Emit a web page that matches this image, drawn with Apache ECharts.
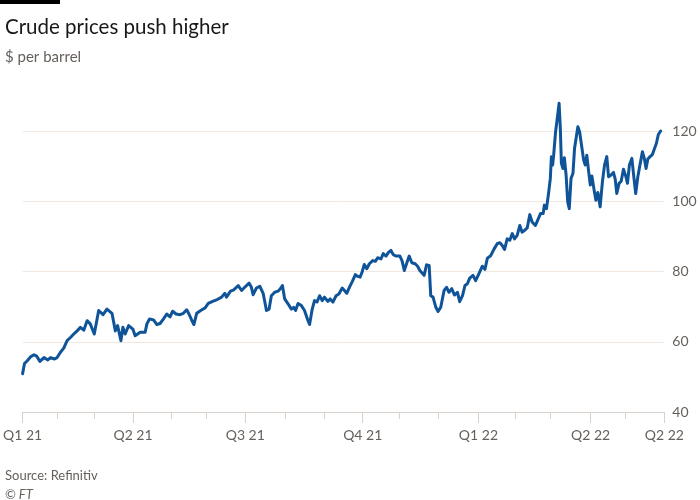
<!DOCTYPE html>
<html>
  <head>
    <meta charset="utf-8" />
    <title>Crude prices push higher</title>
    <script src="https://cdn.jsdelivr.net/npm/echarts@6/dist/echarts.min.js"></script>
    <style>
      html, body { margin: 0; padding: 0; background: #fff; }
    </style>
  </head>
  <body>
    <div id="chart" style="width: 700px; height: 500px"></div>
    <script>
      // x = trading days since 1 Jan 2021, y = Brent crude, $ per barrel
      var brent = [
        [0, 50.9], [1.1, 53.8], [2.7, 54.6], [4.5, 55.7], [6.5, 56.3], [8.0, 55.9], [9.9, 54.4], [12.2, 55.5],
        [14.4, 54.8], [15.9, 55.5], [18.2, 55.1], [19.7, 55.5], [21.6, 57], [23.5, 58.2], [25.4, 60.3], [27.3, 61.2],
        [29.2, 62.2], [31.1, 63.1], [33.0, 64.1], [34.9, 63.3], [36.8, 66], [38.6, 65.1], [40.9, 62.2], [43.4, 68.9],
        [45.9, 67.7], [48.1, 69.3], [51.0, 68.1], [52.9, 63.1], [54.2, 64.6], [56.1, 60.3], [57.2, 64.1], [58.5, 62.2],
        [60.5, 64.6], [62.9, 63.6], [64.2, 61.7], [67.1, 62.7], [69.9, 62.7], [70.9, 65.1], [72.4, 66.5], [74.7, 66.2],
        [76.6, 64.9], [78.4, 65.2], [80.4, 66.5], [82.2, 67.9], [84.1, 67.1], [85.6, 68.7], [87.5, 67.9], [89.8, 67.7],
        [91.7, 68.1], [93.6, 69.1], [94.9, 67.9], [96.4, 66.2], [97.7, 64.9], [99.3, 68.1], [101.6, 68.9], [104.0, 69.6],
        [105.9, 70.9], [108.4, 71.5], [110.6, 71.9], [113.5, 72.7], [115.4, 73.8], [116.3, 72.7], [118.6, 74.4], [120.5, 74.8],
        [123.0, 76], [124.9, 74.6], [126.7, 75.5], [129.2, 76.7], [130.5, 75.5], [131.5, 73.4], [133.4, 75.3], [135.3, 75.8],
        [137.2, 73.8], [139.1, 68.9], [140.6, 69.3], [141.9, 73.1], [143.8, 74.1], [145.7, 74.4], [147.0, 75.1], [148.2, 76],
        [149.5, 72.2], [151.4, 70.8], [153.3, 69.3], [154.6, 69.8], [155.7, 68.9], [157.1, 70.9], [159.0, 70.3], [160.8, 68.9],
        [162.8, 66], [163.7, 64.9], [165.2, 69.3], [166.5, 71.7], [167.9, 71.3], [169.4, 73.1], [170.9, 71.7], [172.2, 72.7],
        [174.1, 71.5], [175.4, 72.2], [177.0, 71.3], [178.8, 73.1], [180.4, 73.6], [182.3, 75.3], [183.6, 74.6], [184.9, 73.8],
        [186.4, 75.5], [188.3, 77.4], [189.8, 79.1], [191.2, 78.6], [192.5, 78.4], [193.6, 79.8], [194.9, 82], [196.3, 80.8],
        [197.8, 82.2], [199.7, 83.1], [201.2, 82.9], [202.5, 83.9], [204.4, 83.6], [205.7, 85.1], [207.3, 84.4], [208.8, 85.5],
        [210.1, 86], [211.4, 84.8], [212.9, 84.4], [215.2, 84.4], [216.4, 83.1], [217.7, 80.3], [219.0, 82.2], [220.5, 84.4],
        [222.0, 82.5], [223.9, 82.2], [225.3, 81.5], [226.6, 80.3], [227.7, 80.8], [229.0, 78.9], [230.4, 81.9], [231.9, 81.7],
        [232.8, 73.1], [234.1, 72.7], [235.7, 69.8], [237.0, 68.6], [238.5, 69.8], [240.4, 74.6], [241.8, 75.5], [243.2, 74.1],
        [244.8, 75.1], [246.3, 73.3], [248.0, 74.1], [249.3, 71.4], [250.9, 73.1], [252.3, 76], [253.7, 76.5], [255.0, 78.1],
        [256.9, 78.9], [258.4, 77.4], [260.3, 79.4], [262.2, 81.5], [263.7, 80.6], [265.1, 83.8], [267.0, 84.5], [268.8, 86.3],
        [270.7, 87.9], [272.2, 88.2], [273.6, 87.4], [274.9, 86.3], [276.4, 89.3], [277.9, 88.9], [279.3, 90.8], [280.6, 89.3],
        [282.1, 90.3], [283.6, 93.1], [284.9, 91.2], [286.3, 91.7], [287.8, 92.4], [289.3, 96.2], [290.6, 94.1], [291.5, 94.6],
        [292.5, 93.1], [293.8, 94.6], [295.4, 96.5], [296.9, 96.5], [297.6, 98.9], [298.8, 97.9], [300.1, 102.7], [301.0, 106.5],
        [301.6, 112.7], [302.3, 110.3], [302.9, 113.1], [304.0, 119.8], [305.2, 124.6], [306.0, 127.9], [306.7, 120.8], [307.3, 110.8],
        [308.2, 109.3], [309.0, 112.4], [310.0, 107.4], [310.9, 99.8], [311.8, 97.9], [312.8, 106.5], [313.9, 107.9], [314.8, 115],
        [315.6, 115.5], [316.7, 121.2], [317.7, 119.8], [318.7, 120.3], [320.0, 111.7], [320.9, 110.3], [321.8, 113.1], [322.8, 108.7],
        [323.8, 104.6], [324.7, 107.2], [326.0, 103.1], [327.0, 100.3], [328.1, 102.5], [329.4, 98.4], [330.7, 105.5], [331.9, 110.3],
        [333.2, 112.7], [334.2, 107], [335.5, 107.4], [337.0, 108.2], [338.0, 106.3], [338.9, 102.2], [340.2, 105.1], [341.4, 105.7],
        [342.7, 109.1], [344.1, 107], [345.0, 105.1], [346.1, 110.3], [347.5, 112.2], [348.6, 107], [349.7, 102.2], [350.9, 107],
        [352.0, 107.4], [353.5, 114.1], [354.6, 112.2], [355.6, 109.3], [356.6, 112], [357.9, 112.7], [359.2, 113.3], [360.3, 113.6],
        [361.5, 116.5], [362.6, 119], [363.9, 120]
      ];

      // month starts, in trading days since 1 Jan 2021
      var monthTicks = [0, 20, 41, 63, 85, 105, 127, 150, 172, 194, 215, 237, 260, 281, 301, 324, 344, 366];
      var quarterTicks = [0, 63, 127, 194, 260, 324, 366];
      var quarterLabels = ["Q1 21", "Q2 21", "Q3 21", "Q4 21", "Q1 22", "Q2 22", "Q2 22"];

      var font = "Lato";
      var grey = "#66605c";

      var option = {
        animation: false,
        backgroundColor: "#fff",
        title: [
          {
            text: "Crude prices push higher",
            left: 0,
            top: 12,
            textStyle: { fontFamily: font, fontSize: 20.5, fontWeight: "normal", color: "#1a1817" },
          },
          {
            text: "$ per barrel",
            left: 0,
            top: 45,
            textStyle: { fontFamily: font, fontSize: 15, fontWeight: "normal", color: grey },
          },
          {
            text: "Source: Refinitiv",
            left: 0,
            top: 464,
            textStyle: { fontFamily: font, fontSize: 13, fontWeight: "normal", color: grey },
          },
          {
            text: "© FT",
            left: 0,
            top: 483,
            textStyle: { fontFamily: font, fontSize: 13, fontWeight: "normal", fontStyle: "italic", color: grey },
          },
        ],
        graphic: [
          { type: "rect", left: 0, top: 0, shape: { width: 60, height: 4 }, style: { fill: "#000" } },
        ],
        grid: { left: 20.3, right: 35.7, top: 131, bottom: 88 },
        xAxis: [
          {
            type: "value",
            min: 0,
            max: 366,
            splitLine: { show: false },
            axisLine: { lineStyle: { color: "#d8d0ca", width: 1 } },
            axisTick: { customValues: quarterTicks, length: 11, lineStyle: { color: "#d8d0ca" } },
            axisLabel: {
              customValues: quarterTicks,
              margin: 16,
              fontFamily: font,
              fontSize: 14,
              color: grey,
              formatter: function (v) {
                var i = quarterTicks.indexOf(v);
                return i >= 0 ? quarterLabels[i] : "";
              },
            },
          },
          {
            type: "value",
            min: 0,
            max: 366,
            position: "bottom",
            splitLine: { show: false },
            axisLine: { show: false },
            axisTick: { customValues: monthTicks, length: 7, lineStyle: { color: "#d8d0ca" } },
            axisLabel: { show: false },
          },
        ],
        yAxis: {
          type: "value",
          position: "right",
          min: 40,
          max: 120,
          interval: 20,
          axisLine: { show: false },
          axisTick: { show: false },
          splitLine: { lineStyle: { color: "#f0e7e1", width: 1 } },
          axisLabel: { margin: 8, fontFamily: font, fontSize: 14, color: grey },
        },
        series: [
          {
            type: "line",
            data: brent,
            showSymbol: false,
            clip: false,
            lineStyle: { color: "#0f5499", width: 3, cap: "round", join: "round" },
            z: 5,
          },
        ],
      };

      var chart = echarts.init(document.getElementById("chart"));
      chart.setOption(option);
    </script>
  </body>
</html>
